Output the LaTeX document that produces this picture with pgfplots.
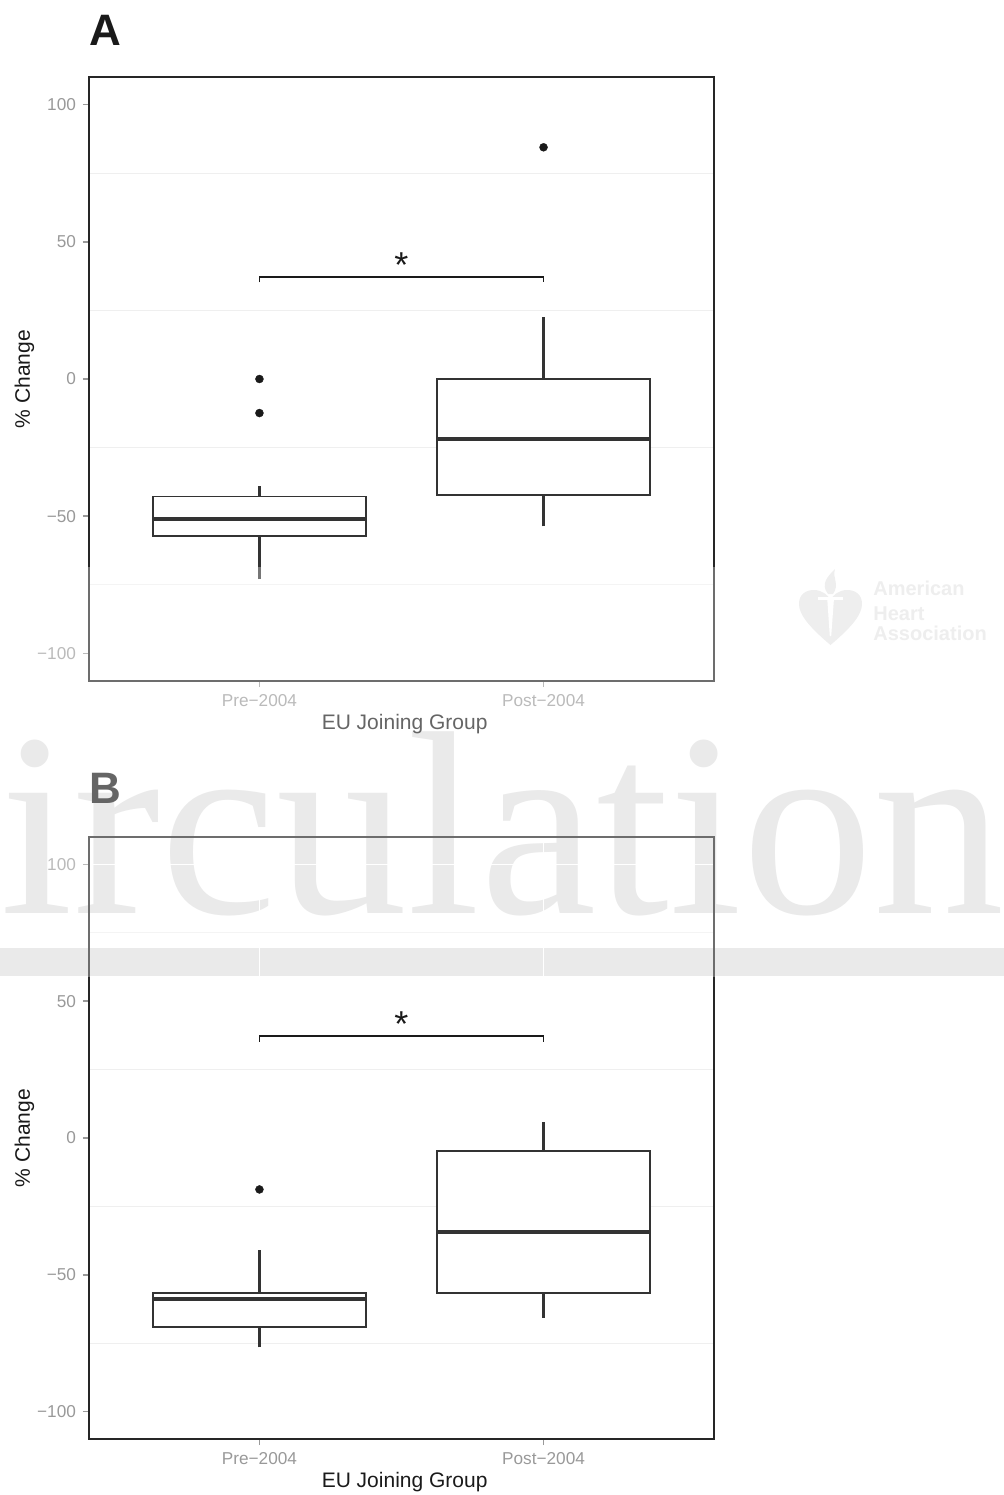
\documentclass[border=0pt]{standalone}
\usepackage{pgfplots}
\pgfplotsset{compat=1.18}
\usepackage{fontspec}
\setmainfont{Liberation Sans}
\newfontfamily\serifwm{Liberation Serif}
\definecolor{boxc}{HTML}{333333}
\definecolor{ptc}{HTML}{1A1A1A}
\definecolor{bordc}{HTML}{262626}
\definecolor{gridc}{HTML}{EFEFEF}
\definecolor{tickgray}{HTML}{999999}
\definecolor{labc}{HTML}{1A1A1A}
\definecolor{wmc}{HTML}{E0E0E0}
\definecolor{ahac}{HTML}{EEEEEE}
\pgfplotsset{
  myaxis/.style={
    scale only axis, width=312.5pt,
    xmin=0.4, xmax=2.6, ymin=-110, ymax=110,
    xtick={1,2}, xticklabels={Pre−2004,Post−2004},
    ytick={-100,-50,0,50,100}, yticklabels={−100,−50,0,50,100},
    minor ytick={-75,-25,25,75},
    xmajorgrids, ymajorgrids, yminorgrids,
    major grid style={white, line width=0.5pt},
    minor grid style={gridc, line width=0.5pt},
    tick align=outside, major tick length=3pt,
    xtick pos=left, ytick pos=left,
    major tick style={draw=tickgray, line width=0.8pt},
    minor tick style={draw=none},
    axis line style={draw=bordc, line width=0.7pt},
    ticklabel style={font=\fontsize{8.6}{10}\selectfont, text=tickgray},
    xlabel={EU Joining Group},
    ylabel={\% Change},
    xlabel style={at={(axis description cs:0.505,-0.08)}, anchor=base, font=\fontsize{10.5}{12}\selectfont, text=labc},
    ylabel style={at={(axis description cs:-0.0944,0.5)}, anchor=base, font=\fontsize{10.5}{12}\selectfont, text=labc},
  },
  ln/.style={draw=boxc, line width=1.1pt, mark=none},
  bxs/.style={draw=boxc, line width=0.9pt, fill=white, mark=none},
  md/.style={draw=boxc, line width=1.8pt, mark=none},
  out/.style={only marks, mark=*, mark size=2pt, mark options={fill=ptc, draw=ptc, line width=0.2pt}},
}
\begin{document}
\begin{tikzpicture}
\path[use as bounding box] (0,0) rectangle (501.5pt,-747.5pt);
% watermark (background)
\node[anchor=base west, inner sep=0, text=wmc, font=\fontsize{131}{131}\selectfont\serifwm] at (-87.4pt,-456.5pt) {Circulation};
\fill[wmc] (-1pt,-474pt) rectangle (503pt,-488pt);
% panel letters
\node[anchor=base west, inner sep=0, font=\fontsize{22}{22}\selectfont\bfseries, text=ptc] at (44.5pt,-22.5pt) {A};
\node[anchor=base west, inner sep=0, font=\fontsize{22}{22}\selectfont\bfseries, text=ptc] at (44.5pt,-401.5pt) {B};
% Panel A
\begin{axis}[myaxis, at={(44.5pt,-340.5pt)}, anchor=south west, height=302pt]
% Pre-2004
\addplot[ln] coordinates {(1,-72.9) (1,-57.2)};
\addplot[ln] coordinates {(1,-42.8) (1,-38.8)};
\addplot[bxs] coordinates {(0.625,-57.2) (1.375,-57.2) (1.375,-42.8) (0.625,-42.8)} -- cycle;
\addplot[md] coordinates {(0.625,-50.9) (1.375,-50.9)};
\addplot[out] coordinates {(1,0) (1,-12.4)};
% Post-2004
\addplot[ln] coordinates {(2,-53.7) (2,-42.2)};
\addplot[ln] coordinates {(2,0) (2,22.6)};
\addplot[bxs] coordinates {(1.625,-42.2) (2.375,-42.2) (2.375,0) (1.625,0)} -- cycle;
\addplot[md] coordinates {(1.625,-21.9) (2.375,-21.9)};
\addplot[out] coordinates {(2,84.4)};
% significance
\addplot[color=ptc, line width=0.9pt, mark=none] coordinates {(1,35.2) (1,37.2) (2,37.2) (2,35.2)};
\node[anchor=base, inner sep=0, font=\fontsize{18}{18}\selectfont, text=ptc] at (axis cs:1.5,37) {*};
\end{axis}
% Panel B
\begin{axis}[myaxis, at={(44.5pt,-719.5pt)}, anchor=south west, height=301pt]
% Pre-2004
\addplot[ln] coordinates {(1,-76.5) (1,-69.2)};
\addplot[ln] coordinates {(1,-56.6) (1,-40.8)};
\addplot[bxs] coordinates {(0.625,-69.2) (1.375,-69.2) (1.375,-56.6) (0.625,-56.6)} -- cycle;
\addplot[md] coordinates {(0.625,-58.8) (1.375,-58.8)};
\addplot[out] coordinates {(1,-18.8)};
% Post-2004
\addplot[ln] coordinates {(2,-65.7) (2,-56.6)};
\addplot[ln] coordinates {(2,-4.8) (2,6.0)};
\addplot[bxs] coordinates {(1.625,-56.6) (2.375,-56.6) (2.375,-4.8) (1.625,-4.8)} -- cycle;
\addplot[md] coordinates {(1.625,-34.3) (2.375,-34.3)};
% significance
\addplot[color=ptc, line width=0.9pt, mark=none] coordinates {(1,35.2) (1,37.2) (2,37.2) (2,35.2)};
\node[anchor=base, inner sep=0, font=\fontsize{18}{18}\selectfont, text=ptc] at (axis cs:1.5,37) {*};
\end{axis}
% watermark veil
\fill[white, opacity=0.33] (-1pt,-283.5pt) rectangle (503pt,-488.5pt);
% AHA logo
\fill[ahac] (415.25pt,-322.5pt) .. controls (404pt,-313pt) and (399.5pt,-307pt) .. (399.5pt,-302pt)
  .. controls (399.5pt,-297pt) and (403pt,-295pt) .. (407pt,-295pt)
  .. controls (411pt,-295pt) and (414pt,-297.5pt) .. (415.25pt,-300pt)
  .. controls (416.5pt,-297.5pt) and (419.5pt,-295pt) .. (423.5pt,-295pt)
  .. controls (427.5pt,-295pt) and (431pt,-297pt) .. (431pt,-302pt)
  .. controls (431pt,-307pt) and (426.5pt,-313pt) .. (415.25pt,-322.5pt) -- cycle;
\fill[ahac] (414pt,-297pt) .. controls (410pt,-292pt) and (414pt,-288pt) .. (417.5pt,-284.5pt)
  .. controls (416pt,-289pt) and (420pt,-292pt) .. (416.5pt,-297pt) -- cycle;
\fill[white] (413.6pt,-299pt) -- (417pt,-299pt) -- (415.6pt,-318pt) -- (414.9pt,-318pt) -- cycle;
\fill[white] (409pt,-298.3pt) rectangle (421.5pt,-300pt);
\node[anchor=base west, inner sep=0, font=\fontsize{10}{10}\selectfont\bfseries, text=ahac] at (436.5pt,-297.5pt) {American};
\node[anchor=base west, inner sep=0, font=\fontsize{10}{10}\selectfont\bfseries, text=ahac] at (436.5pt,-310pt) {Heart};
\node[anchor=base west, inner sep=0, font=\fontsize{10}{10}\selectfont\bfseries, text=ahac] at (436.5pt,-320pt) {Association};
\end{tikzpicture}
\end{document}
